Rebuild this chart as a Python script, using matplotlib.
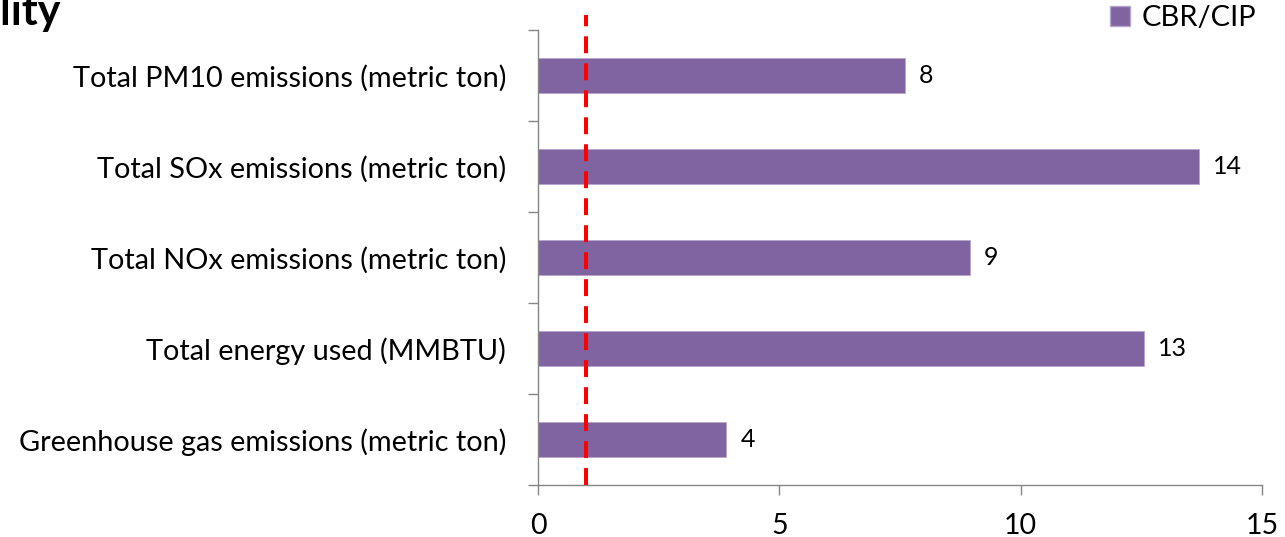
import matplotlib
matplotlib.use("Agg")
import matplotlib.pyplot as plt
from matplotlib.patches import Patch

# Indicator categories (bottom to top) and their CBR/CIP values
categories = [
    "Greenhouse gas emissions (metric ton)",
    "Total energy used (MMBTU)",
    "Total NOx emissions (metric ton)",
    "Total SOx emissions (metric ton)",
    "Total PM10 emissions (metric ton)",
]
cbr_cip = [3.9, 12.55, 8.95, 13.7, 7.6]
series_name = "CBR/CIP"
reference_value = 1
x_ticks = [0, 5, 10, 15]

bar_color = "#8064A2"
axis_color = "#868686"
font = "Lato"

fig = plt.figure(figsize=(12.85, 5.37), dpi=100)
ax = fig.add_axes([538 / 1285, 1 - 485 / 537, (1262 - 538) / 1285, 455 / 537])

ypos = list(range(len(categories)))
ax.barh(ypos, cbr_cip, height=0.39, color=bar_color, edgecolor="#B7A6CC",
        linewidth=0.6, zorder=2)

for y, v in zip(ypos, cbr_cip):
    ax.annotate(f"{v:.0f}", xy=(v, y), xytext=(14, 0), textcoords="offset pixels",
                ha="left", va="center", fontsize=18, family=font, color="black")

# Reference line at 1
ax.axvline(reference_value, ymin=0, ymax=1.033, color="#FF0000", lw=2.9,
           dashes=(4.2, 2.5), clip_on=False, zorder=3)

ax.set_xlim(0, 15)
ax.set_ylim(-0.5, len(categories) - 0.5)
ax.set_xticks(x_ticks)
ax.set_xticklabels([str(t) for t in x_ticks], fontsize=20.5, family=font)
ax.set_yticks(ypos)
ax.set_yticklabels(categories, fontsize=20.8, family=font)
ax.set_yticks([i - 0.5 for i in range(len(categories) + 1)], minor=True)

ax.tick_params(axis="y", which="major", length=0, pad=23)
ax.tick_params(axis="y", which="minor", length=7.2, width=1, color=axis_color,
               direction="out")
ax.tick_params(axis="x", which="major", length=7.2, width=1, color=axis_color,
               direction="out", pad=13)

for side in ["top", "right"]:
    ax.spines[side].set_visible(False)
for side in ["left", "bottom"]:
    ax.spines[side].set_color(axis_color)
    ax.spines[side].set_linewidth(1)

leg = fig.legend(handles=[Patch(facecolor=bar_color, edgecolor="#B7A6CC",
                                label=series_name)],
                 loc="upper right", bbox_to_anchor=(1268 / 1285, 1.012),
                 frameon=False, prop={"family": font, "size": 21},
                 handlelength=0.68, handleheight=0.68, handletextpad=0.4,
                 borderaxespad=0)

# Slide title, partly cut off at the top-left edge
fig.text(61 / 1285, 1 - 25 / 537, "Air Quality", ha="right", va="baseline",
         fontsize=31, fontweight="bold", family=font)

fig.savefig("out.png", dpi=100)
